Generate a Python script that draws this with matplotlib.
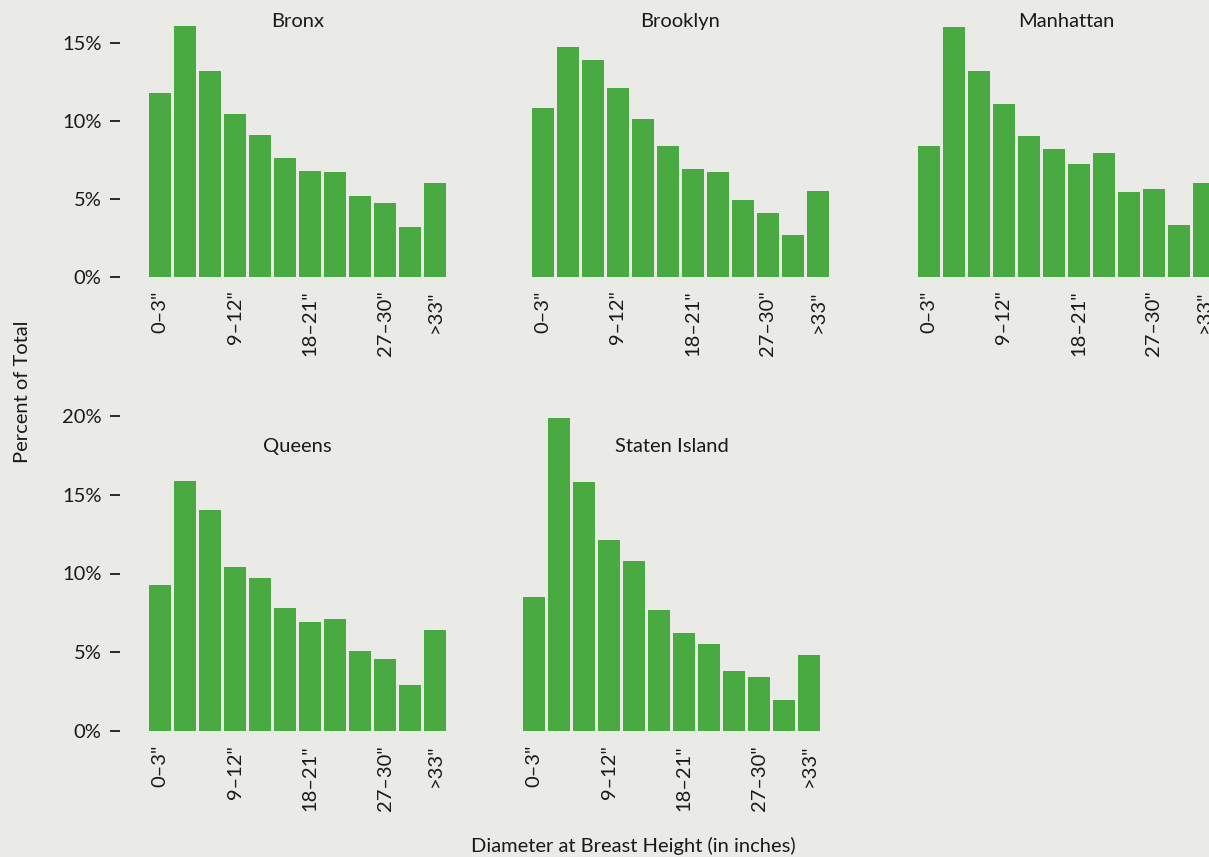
import matplotlib.pyplot as plt
from matplotlib.ticker import FuncFormatter

# ── Data (percent of trees per diameter class) ────────────────────────────────
size_classes = ['0–3"', '3–6"', '6–9"', '9–12"', '12–15"', '15–18"',
                '18–21"', '21–24"', '24–27"', '27–30"', '30–33"', '>33"']
shown_ticks = [0, 3, 6, 9, 11]

bronx     = [11.8, 16.1, 13.2, 10.4, 9.1, 7.6, 6.8, 6.7, 5.2, 4.7, 3.2, 6.0]
brooklyn  = [10.8, 14.7, 13.9, 12.1, 10.1, 8.4, 6.9, 6.7, 4.9, 4.1, 2.7, 5.5]
manhattan = [8.4, 16.0, 13.2, 11.1, 9.0, 8.2, 7.2, 7.9, 5.4, 5.6, 3.3, 6.0]
queens    = [9.3, 15.9, 14.0, 10.4, 9.7, 7.8, 6.9, 7.1, 5.1, 4.6, 2.9, 6.4]
staten    = [8.5, 19.9, 15.8, 12.1, 10.8, 7.7, 6.2, 5.5, 3.8, 3.4, 2.0, 4.8]

# ── Style ─────────────────────────────────────────────────────────────────────
_BG    = "#eaeae6"
_BAR   = "#4aaa42"
_TEXT  = "#1a1a1a"
W, H = 1209, 857

plt.rcParams['font.family'] = ['Lato', 'DejaVu Sans']
plt.rcParams['font.size'] = 14.5

fig = plt.figure(figsize=(W / 100, H / 100), dpi=100)
fig.patch.set_facecolor(_BG)


def _panel(left_px, base_px, px_per_pct, ymax, title, title_y, values, yticks):
    width_px = 25 * len(values)
    height_px = ymax * px_per_pct
    ax = fig.add_axes([left_px / W, 1 - base_px / H, width_px / W, height_px / H])
    ax.set_facecolor(_BG)
    ax.bar(range(len(values)), values, width=0.88, color=_BAR)
    ax.set_xlim(-0.5, len(values) - 0.5)
    ax.set_ylim(0, ymax)

    for s in ax.spines.values():
        s.set_visible(False)
    ax.spines['left'].set_position(('outward', 20))

    ax.set_xticks(shown_ticks)
    ax.set_xticklabels([size_classes[i] for i in shown_ticks], rotation=90,
                       color=_TEXT)
    ax.tick_params(axis='x', length=0, pad=10)

    if yticks:
        ax.set_yticks(yticks)
        ax.yaxis.set_major_formatter(FuncFormatter(lambda v, _: f"{v:.0f}%"))
        ax.tick_params(axis='y', length=7, width=1.3, pad=6,
                       color=_TEXT, labelcolor=_TEXT)
    else:
        ax.set_yticks([])

    ax.text(0.5, title_y, title, transform=ax.transAxes, ha='center',
            va='center', color=_TEXT)
    return ax


# top row: 0% at y=277px, 15.6 px per percent
_panel(147.5, 276.7, 15.6, 17, "Bronx", 0.964, bronx, [0, 5, 10, 15])
_panel(530.5, 276.7, 15.6, 17, "Brooklyn", 0.964, brooklyn, None)
_panel(916.5, 276.7, 15.6, 17, "Manhattan", 0.964, manhattan, None)

# bottom row: 0% at y=731px, 15.75 px per percent
_panel(147.5, 731, 15.75, 20.5, "Queens", 0.88, queens, [0, 5, 10, 15, 20])
_panel(521.5, 731, 15.75, 20.5, "Staten Island", 0.88, staten, None)

fig.text(22 / W, 1 - 392 / H, "Percent of Total", rotation=90,
         ha='center', va='center', color=_TEXT)
fig.text(633 / W, 1 - 846 / H, "Diameter at Breast Height (in inches)",
         ha='center', va='center', color=_TEXT)

fig.savefig("out.png", dpi=100, facecolor=_BG)
